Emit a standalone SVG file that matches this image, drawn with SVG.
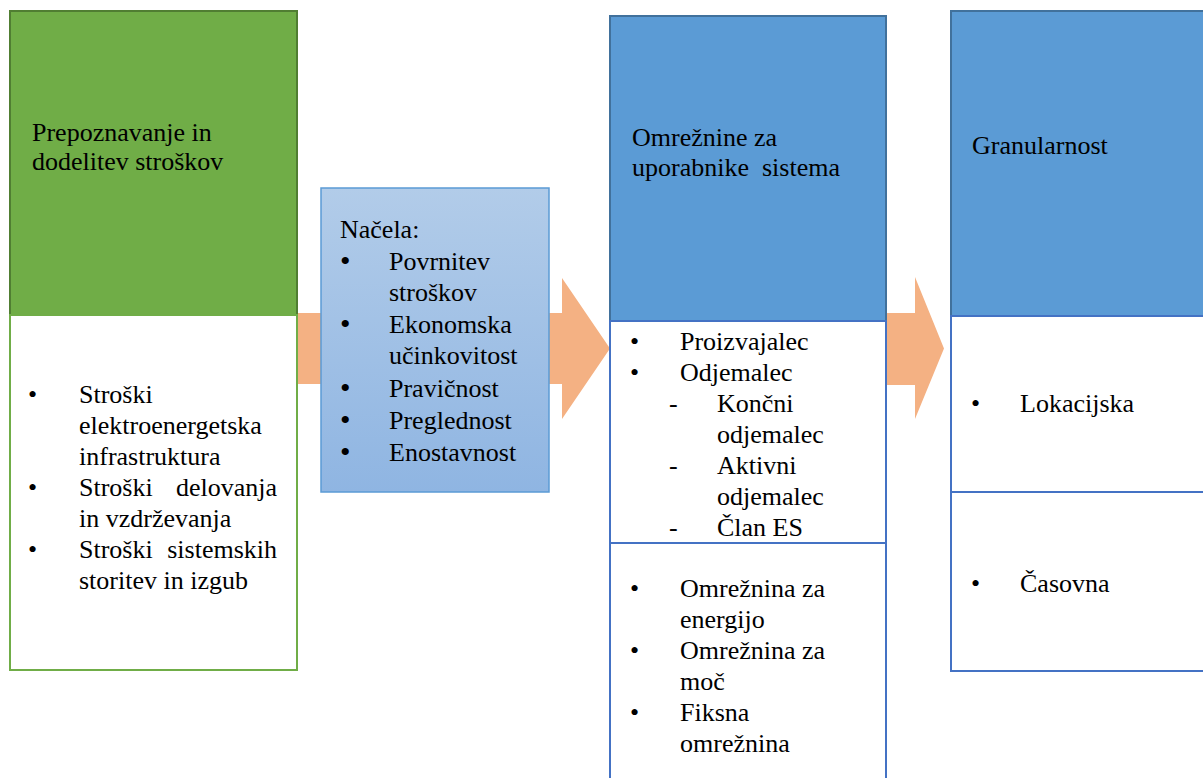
<svg xmlns="http://www.w3.org/2000/svg" width="1203" height="778" viewBox="0 0 1203 778">
<style>
.t{font-family:'Liberation Serif','Times New Roman',serif;font-size:26px;fill:#000}
.b{font-size:26px}
.bb{font-size:30px}
.arrow{fill:#F4B183;stroke:none}
.gh{fill:#70AD47;stroke:#507E32;stroke-width:2}
.gb{fill:#fff;stroke:#70AD47;stroke-width:2}
.bh{fill:#5B9BD5;stroke:#41719C;stroke-width:2}
.bw{fill:#fff;stroke:#4472C4;stroke-width:2}
</style>
<defs>
<linearGradient id="gNacela" x1="0" y1="0" x2="0" y2="1">
<stop offset="0" stop-color="#B2CCE9"/>
<stop offset="1" stop-color="#8FB5E2"/>
</linearGradient>
</defs>
<rect width="1203" height="778" fill="#fff"/>
<g id="connectors">
<polygon class="arrow" points="297,313 562,313 562,278 610,348.5 562,419 562,384 297,384"/>
<polygon class="arrow" points="886,313 915,313 915,277 944,348.5 915,419 915,385 886,385"/>
</g>
<g class="t" font-family="Liberation Serif, serif" font-size="26">
<g id="node-prepoznavanje">
<rect class="gh" x="10" y="11" width="287" height="304"/>
<text x="32" y="141">Prepoznavanje in</text>
<text x="32" y="170">dodelitev stroškov</text>
</g>
<g id="node-stroski">
<rect class="gb" x="10" y="315" width="287" height="355"/>
<text class="b" x="28" y="403">•</text>
<text x="79" y="403">Stroški</text>
<text x="79" y="434">elektroenergetska</text>
<text x="79" y="465">infrastruktura</text>
<text class="b" x="28" y="496">•</text>
<text x="79" y="496">Stroški</text>
<text x="277" y="496" text-anchor="end">delovanja</text>
<text x="79" y="527">in vzdrževanja</text>
<text class="b" x="28" y="558">•</text>
<text x="79" y="558">Stroški</text>
<text x="277" y="558" text-anchor="end">sistemskih</text>
<text x="79" y="589">storitev in izgub</text>
</g>
<g id="node-nacela">
<rect x="321" y="188" width="228" height="304" fill="url(#gNacela)" stroke="#5B9BD5" stroke-width="1.5"/>
<text x="340" y="238">Načela:</text>
<text class="bb" x="340" y="271">•</text>
<text x="389" y="270">Povrnitev</text>
<text x="389" y="301">stroškov</text>
<text class="bb" x="340" y="334">•</text>
<text x="389" y="333">Ekonomska</text>
<text x="389" y="364">učinkovitost</text>
<text class="bb" x="340" y="398">•</text>
<text x="389" y="397">Pravičnost</text>
<text class="bb" x="340" y="430">•</text>
<text x="389" y="429">Preglednost</text>
<text class="bb" x="340" y="462">•</text>
<text x="389" y="461">Enostavnost</text>
</g>
<g id="node-omreznine">
<rect class="bh" x="610" y="16" width="276" height="305"/>
<text x="632" y="146">Omrežnine za</text>
<text x="632" y="176" xml:space="preserve">uporabnike  sistema</text>
</g>
<g id="node-uporabniki">
<rect class="bw" x="610" y="321" width="276" height="222"/>
<text class="b" x="630" y="350">•</text>
<text x="680" y="350">Proizvajalec</text>
<text class="b" x="630" y="381">•</text>
<text x="680" y="381">Odjemalec</text>
<text x="669" y="412">-</text>
<text x="717" y="412">Končni</text>
<text x="717" y="443">odjemalec</text>
<text x="669" y="474">-</text>
<text x="717" y="474">Aktivni</text>
<text x="717" y="505">odjemalec</text>
<text x="669" y="536">-</text>
<text x="717" y="536">Član ES</text>
</g>
<g id="node-omreznina">
<rect class="bw" x="610" y="543" width="276" height="250"/>
<text class="b" x="630" y="597">•</text>
<text x="680" y="597">Omrežnina za</text>
<text x="680" y="628">energijo</text>
<text class="b" x="630" y="659">•</text>
<text x="680" y="659">Omrežnina za</text>
<text x="680" y="690">moč</text>
<text class="b" x="630" y="721">•</text>
<text x="680" y="721">Fiksna</text>
<text x="680" y="752">omrežnina</text>
</g>
<g id="node-granularnost">
<rect class="bh" x="951" y="11" width="262" height="305"/>
<text x="972" y="154">Granularnost</text>
</g>
<g id="node-lokacijska">
<rect class="bw" x="951" y="316" width="262" height="176"/>
<text class="b" x="971" y="412">•</text>
<text x="1020" y="412">Lokacijska</text>
</g>
<g id="node-casovna">
<rect class="bw" x="951" y="492" width="262" height="179"/>
<text class="b" x="971" y="592">•</text>
<text x="1020" y="592">Časovna</text>
</g>
</g>
</svg>
